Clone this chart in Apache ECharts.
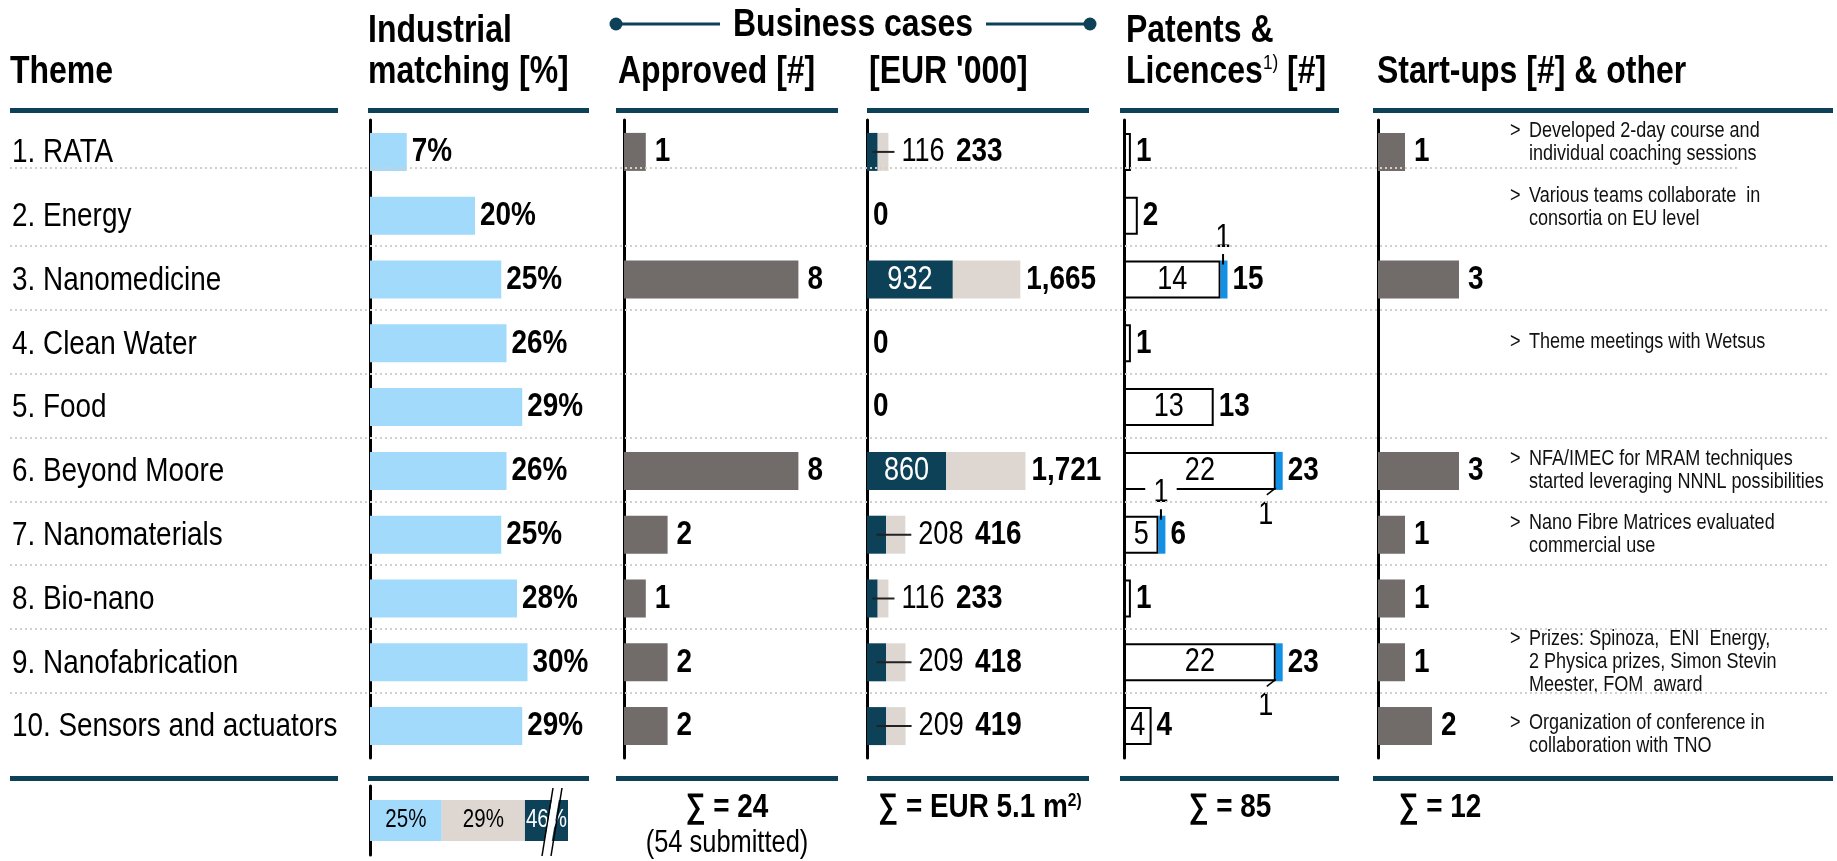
<!DOCTYPE html>
<html lang="en">
<head>
<meta charset="UTF-8">
<title>Themes overview</title>
<style>
  html, body { margin: 0; padding: 0; background: #fff; }
  #main { width: 1837px; height: 861px; }
</style>
</head>
<body>
<div id="main"></div>
<script src="https://cdn.jsdelivr.net/npm/echarts@6.0.0/dist/echarts.min.js"></script>
<script>
    // ---- data ----
    var themes = ['1. RATA', '2. Energy', '3. Nanomedicine', '4. Clean Water', '5. Food',
        '6. Beyond Moore', '7. Nanomaterials', '8. Bio-nano', '9. Nanofabrication', '10. Sensors and actuators'];
    var matching = [7, 20, 25, 26, 29, 26, 25, 28, 30, 29];        // industrial matching [%]
    var approved = [1, 0, 8, 0, 0, 8, 2, 1, 2, 2];                 // business cases approved [#]
    var eurFunded = [116, 0, 932, 0, 0, 860, 208, 116, 209, 209];  // dark part [EUR '000]
    var eurTotal = [233, 0, 1665, 0, 0, 1721, 416, 233, 418, 419]; // total [EUR '000]
    var patents = [1, 2, 14, 1, 13, 22, 5, 1, 22, 4];
    var licences = [0, 0, 1, 0, 0, 1, 1, 0, 1, 0];
    var startups = [1, 0, 3, 0, 0, 3, 1, 1, 1, 2];
    var notes = [
        'Developed 2-day course and\nindividual coaching sessions',
        'Various teams collaborate  in\nconsortia on EU level',
        '',
        'Theme meetings with Wetsus',
        '',
        'NFA/IMEC for MRAM techniques\nstarted leveraging NNNL possibilities',
        'Nano Fibre Matrices evaluated\ncommercial use',
        '',
        'Prizes: Spinoza,  ENI  Energy,\n2 Physica prizes, Simon Stevin\nMeester, FOM  award',
        'Organization of conference in\ncollaboration with TNO'
    ];
    var splitLabels = ['25%', '29%', '46%'];
    var splitValues = [25, 29, 46];
    var sumTexts = ['\u2211 = 24', '(54 submitted)', '\u2211 = EUR 5.1 m', '\u2211 = 85', '\u2211 = 12'];

    // ---- layout / style ----
    var FAM = '"Liberation Sans", Arial, sans-serif';
    var SX = 0.82;   // no narrow font installed: squeeze the text horizontally
    var TEAL = '#0c4158';
    var GREY = '#716c6a';
    var LIGHTBLUE = '#a2dafb';
    var BEIGE = '#ded7d1';
    var BLUE = '#1190e6';
    var blueSide = ['', '', 'top', '', '', 'bottom', 'top', '', 'bottom', ''];
    var noteShift = [-9, -8, 0, -1, 0, 0, 0, 0, 0, 8];
    var splitMax = 69;

    // narrow text element
    function T(x, y, text, size, o) {
        o = o || {};
        var st = {text: String(text), x: 0, y: 0, font: (o.bold ? 'bold ' : '') + size + 'px ' + FAM,
            fill: o.color || '#000', align: o.align || 'left', verticalAlign: 'middle'};
        if (o.rich) st.rich = o.rich;
        if (o.bg) { st.backgroundColor = o.bg; st.padding = o.padding || [0, 0]; }
        var el = {type: 'text', x: x, y: y, scaleX: SX, style: st};
        if (o.z != null) { el.z = o.z; el.silent = true; }
        return el;
    }

    function grid(left, width) {
        return {left: left, width: width, top: 120, height: 638, containLabel: false, outerBoundsMode: 'none'};
    }
    var grids = [grid(370, 210), grid(624, 218), grid(867, 221), grid(1124, 207), grid(1378, 108), grid(1500, 330),
        {left: 370, width: 198, top: 786, height: 69, containLabel: false, outerBoundsMode: 'none'}];
    var maxes = [40, 10, 2400, 30, 4, 1, splitMax];

    var xAxes = [], yAxes = [];
    for (var g = 0; g < grids.length; g++) {
        xAxes.push({type: 'value', gridIndex: g, min: 0, max: maxes[g], show: false});
        yAxes.push({
            type: 'category', gridIndex: g, inverse: true,
            data: g === 6 ? ['all'] : themes,
            axisLine: {show: g !== 5, lineStyle: {color: '#000', width: 3}},
            axisTick: {show: false},
            splitLine: {show: false},
            axisLabel: {show: false}
        });
    }

    function bar(gi, data, color, stack, width) {
        return {type: 'bar', xAxisIndex: gi, yAxisIndex: gi, data: data, barWidth: width || 38,
            stack: stack, itemStyle: {color: color}};
    }
    function labels(gi, data, draw) {
        return {type: 'custom', xAxisIndex: gi, yAxisIndex: gi, clip: false, silent: true, z: 5,
            encode: {x: 0, y: 1}, data: data, renderItem: draw};
    }

    var series = [
        bar(0, matching, LIGHTBLUE),
        bar(1, approved, GREY),
        bar(2, eurFunded, TEAL, 'eur'),
        bar(2, eurTotal.map(function (t, i) { return t - eurFunded[i]; }), BEIGE, 'eur'),
        {type: 'bar', xAxisIndex: 3, yAxisIndex: 3, stack: 'pat', barWidth: 38, data: patents,
            itemStyle: {color: '#fff', borderColor: '#000', borderWidth: 2}},
        bar(3, licences, BLUE, 'pat'),
        bar(4, startups, GREY)
    ];

    // industrial matching labels + theme names
    series.push(labels(0, matching.map(function (v, i) { return [v, i]; }), function (params, api) {
        var row = api.value(1);
        var p = api.coord([api.value(0), row]);
        return {type: 'group', children: [
            T(p[0] + 5, p[1], api.value(0) + '%', 34, {bold: true}),
            T(12, p[1] + 1, themes[row], 34)
        ]};
    }));

    // approved labels
    series.push(labels(1, approved.map(function (v, i) { return [v, i]; }).filter(function (d) { return d[0] > 0; }),
        function (params, api) {
            var p = api.coord([api.value(0), api.value(1)]);
            return T(p[0] + 9, p[1], api.value(0), 34, {bold: true});
        }));

    // EUR labels, leader lines
    series.push(labels(2, eurTotal.map(function (t, i) { return [t, i, eurFunded[i]]; }), function (params, api) {
        var t = api.value(0), row = api.value(1), f = api.value(2);
        var p = api.coord([t, row]);
        if (t === 0) return T(p[0] + 6, p[1], '0', 34, {bold: true});
        if (t > 1000) {
            var c = api.coord([f / 2, row]);
            return {type: 'group', children: [
                T(c[0], c[1], f, 33, {color: '#fff', align: 'center'}),
                T(p[0] + 6, p[1], echarts.format.addCommas(t), 34, {bold: true})
            ]};
        }
        var a = api.coord([f / 2, row]);
        return {type: 'group', children: [
            {type: 'line', shape: {x1: a[0], y1: a[1], x2: p[0] + 6, y2: p[1]}, style: {stroke: '#222', lineWidth: 2}},
            T(p[0] + 13, p[1], '{r|' + f + '}{b|' + t + '}', 33, {rich: {
                r: {fontFamily: FAM, fontSize: 33, padding: [0, 14, 0, 0]},
                b: {fontFamily: FAM, fontSize: 34, fontWeight: 'bold'}
            }})
        ]};
    }));

    // patents labels and licence call-outs
    series.push(labels(3, patents.map(function (v, i) { return [v, i, licences[i]]; }), function (params, api) {
        var v = api.value(0), row = api.value(1), l = api.value(2);
        var s = api.coord([v, row]), e = api.coord([v + l, row]);
        var kids = [T(e[0] + 5, e[1], v + l, 34, {bold: true})];
        if (v >= 4) {
            var c = api.coord([v / 2, row]);
            kids.push(T(c[0], c[1], v, 33, {align: 'center'}));
        }
        if (l > 0) {
            var half = 19, cx = (s[0] + e[0]) / 2;
            if (blueSide[row] === 'top') {
                kids.push({type: 'line', shape: {x1: cx - 1, y1: s[1] - half - 7, x2: cx - 1, y2: s[1] - half + 4},
                    style: {stroke: '#000', lineWidth: 2}});
                kids.push(T(cx - 1, s[1] - half - 23, l, 33, {align: 'center', bg: '#fff', padding: [0, 10]}));
            } else {
                kids.push({type: 'line', shape: {x1: s[0], y1: s[1] + half - 2, x2: s[0] - 9, y2: s[1] + half + 5},
                    style: {stroke: '#000', lineWidth: 1.5}});
                kids.push(T(s[0] - 10, s[1] + half + 25, l, 33, {align: 'center'}));
            }
        }
        return {type: 'group', children: kids};
    }));

    // start-up labels
    series.push(labels(4, startups.map(function (v, i) { return [v, i]; }).filter(function (d) { return d[0] > 0; }),
        function (params, api) {
            var p = api.coord([api.value(0), api.value(1)]);
            return T(p[0] + 9, p[1], api.value(0), 34, {bold: true});
        }));

    // notes
    series.push(labels(5, notes.map(function (n, i) { return [0, i]; }).filter(function (d) { return notes[d[1]]; }),
        function (params, api) {
            var row = api.value(1);
            var p = api.coord([0, row]);
            var y = p[1] + noteShift[row];
            var text = notes[row];
            var n = text.split('\n').length, lh = 23;
            var body = T(p[0] + 29, y, text, 22, {color: '#111'});
            body.style.lineHeight = lh;
            return {type: 'group', children: [
                T(p[0] + 10, y - (n - 1) * lh / 2, '>', 22, {color: '#111'}),
                body
            ]};
        }));

    // bottom split bar
    var splitColors = [LIGHTBLUE, BEIGE, TEAL];
    var splitTextColors = ['#000', '#000', '#fff'];
    var starts = [];
    splitValues.forEach(function (v, k) {
        starts.push(k === 0 ? 0 : starts[k - 1] + splitValues[k - 1]);
        series.push(bar(6, [v], splitColors[k], 'split', 41));
    });
    series.push(labels(6, splitValues.map(function (v, k) { return [starts[k], 0, v, k]; }), function (params, api) {
        var st = api.value(0), k = api.value(3);
        var a = api.coord([st, 0]);
        var b = api.coord([Math.min(st + api.value(2), splitMax), 0]);
        return T((a[0] + b[0]) / 2, a[1], splitLabels[k], 25, {align: 'center', color: splitTextColors[k]});
    }));

    // ---- static decoration: headers, rules, sums ----
    var graphics = [
        T(10, 72, 'Theme', 39, {bold: true, z: 10}),
        T(368, 31, 'Industrial', 39, {bold: true, z: 10}),
        T(368, 72, 'matching [%]', 39, {bold: true, z: 10}),
        T(853, 25, 'Business cases', 39, {bold: true, z: 10, align: 'center'}),
        T(618, 72, 'Approved [#]', 39, {bold: true, z: 10}),
        T(869, 72, "[EUR '000]", 39, {bold: true, z: 10}),
        T(1126, 31, 'Patents &', 39, {bold: true, z: 10}),
        T(1126, 72, '{h|Licences}{s|1)}{h| [#]}', 39, {z: 10, rich: {
            h: {fontFamily: FAM, fontWeight: 'bold', fontSize: 39},
            s: {fontFamily: FAM, fontSize: 21, verticalAlign: 'top'}
        }}),
        T(1377, 72, 'Start-ups [#] & other', 39, {bold: true, z: 10}),
        {type: 'line', z: 10, silent: true, shape: {x1: 616, y1: 24, x2: 720, y2: 24}, style: {stroke: TEAL, lineWidth: 3}},
        {type: 'line', z: 10, silent: true, shape: {x1: 986, y1: 24, x2: 1090, y2: 24}, style: {stroke: TEAL, lineWidth: 3}},
        {type: 'circle', z: 10, silent: true, shape: {cx: 616, cy: 24, r: 6.5}, style: {fill: TEAL}},
        {type: 'circle', z: 10, silent: true, shape: {cx: 1090, cy: 24, r: 6.5}, style: {fill: TEAL}}
    ];
    var colSpans = [[10, 338], [368, 589], [616, 838], [867, 1089], [1120, 1339], [1373, 1833]];
    colSpans.forEach(function (c) {
        [110.5, 778.5].forEach(function (y) {
            graphics.push({type: 'line', z: 10, silent: true, shape: {x1: c[0], y1: y, x2: c[1], y2: y},
                style: {stroke: TEAL, lineWidth: 5}});
        });
    });
    [168, 246, 310, 374, 438, 502, 565, 629, 693].forEach(function (y, k) {
        graphics.push({type: 'line', z: 50, silent: true, shape: {x1: 10, y1: y, x2: k === 0 ? 1740 : 1827, y2: y},
            style: {stroke: '#d6cfc7', lineWidth: 2, lineDash: [2, 3]}});
    });
    graphics.push(T(727, 808, sumTexts[0], 34, {bold: true, z: 10, align: 'center'}));
    graphics.push(T(727, 843, sumTexts[1], 31, {z: 10, align: 'center'}));
    graphics.push(T(980, 808, '{b|' + sumTexts[2] + '}{s|2)}', 34, {z: 10, align: 'center', rich: {
        b: {fontFamily: FAM, fontWeight: 'bold', fontSize: 34},
        s: {fontFamily: FAM, fontWeight: 'bold', fontSize: 19, verticalAlign: 'top'}
    }}));
    graphics.push(T(1230, 808, sumTexts[3], 34, {bold: true, z: 10, align: 'center'}));
    graphics.push(T(1440, 808, sumTexts[4], 34, {bold: true, z: 10, align: 'center'}));
    // axis break on the 46% segment
    graphics.push({type: 'line', z: 20, silent: true, shape: {x1: 557, y1: 790, x2: 546, y2: 854},
        style: {stroke: '#fff', lineWidth: 7}});
    graphics.push({type: 'line', z: 21, silent: true, shape: {x1: 553, y1: 788, x2: 542, y2: 856},
        style: {stroke: '#000', lineWidth: 1.5}});
    graphics.push({type: 'line', z: 21, silent: true, shape: {x1: 562, y1: 788, x2: 551, y2: 856},
        style: {stroke: '#000', lineWidth: 1.5}});

    var myChart = echarts.init(document.getElementById('main'));
    myChart.setOption({
        animation: false,
        backgroundColor: '#fff',
        textStyle: {fontFamily: FAM},
        grid: grids,
        xAxis: xAxes,
        yAxis: yAxes,
        series: series,
        graphic: graphics
    });
</script>
</body>
</html>
